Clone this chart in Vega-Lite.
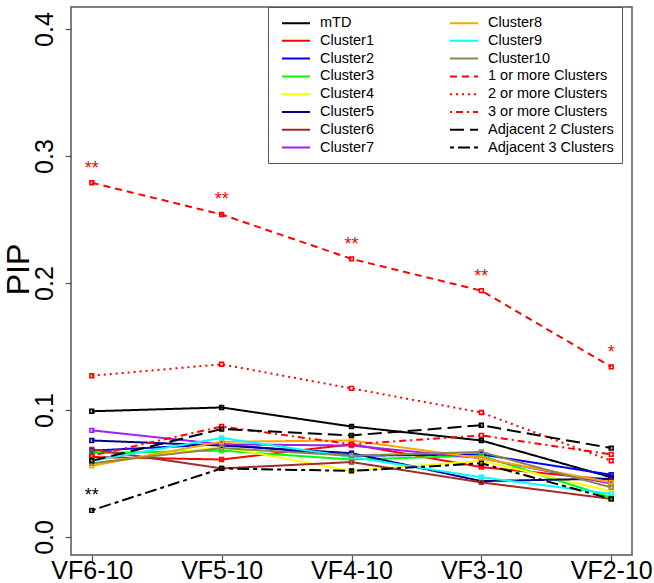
{
  "$schema": "https://vega.github.io/schema/vega-lite/v6.json",
  "width": 561,
  "height": 548,
  "autosize": {"type": "none"},
  "padding": {"left": 71, "top": 7, "right": 22, "bottom": 28},
  "background": "white",
  "config": {
    "font": "Liberation Sans",
    "view": {"stroke": "#555555", "strokeWidth": 1.5},
    "axis": {"domain": false, "grid": false, "tickColor": "#555555", "tickSize": 6, "tickWidth": 1.2, "labelColor": "black", "labelFont": "Liberation Sans", "labelFontSize": 25, "titleFont": "Liberation Sans"}
  },
  "data": {"values": [
    {"series": "mTD", "vf": "VF6-10", "pip": 0.099},
    {"series": "mTD", "vf": "VF5-10", "pip": 0.102},
    {"series": "mTD", "vf": "VF4-10", "pip": 0.087},
    {"series": "mTD", "vf": "VF3-10", "pip": 0.076},
    {"series": "mTD", "vf": "VF2-10", "pip": 0.047},
    {"series": "Cluster1", "vf": "VF6-10", "pip": 0.063},
    {"series": "Cluster1", "vf": "VF5-10", "pip": 0.061},
    {"series": "Cluster1", "vf": "VF4-10", "pip": 0.073},
    {"series": "Cluster1", "vf": "VF3-10", "pip": 0.055},
    {"series": "Cluster1", "vf": "VF2-10", "pip": 0.045},
    {"series": "Cluster2", "vf": "VF6-10", "pip": 0.068},
    {"series": "Cluster2", "vf": "VF5-10", "pip": 0.073},
    {"series": "Cluster2", "vf": "VF4-10", "pip": 0.064},
    {"series": "Cluster2", "vf": "VF3-10", "pip": 0.065},
    {"series": "Cluster2", "vf": "VF2-10", "pip": 0.049},
    {"series": "Cluster3", "vf": "VF6-10", "pip": 0.066},
    {"series": "Cluster3", "vf": "VF5-10", "pip": 0.068},
    {"series": "Cluster3", "vf": "VF4-10", "pip": 0.061},
    {"series": "Cluster3", "vf": "VF3-10", "pip": 0.064},
    {"series": "Cluster3", "vf": "VF2-10", "pip": 0.031},
    {"series": "Cluster4", "vf": "VF6-10", "pip": 0.058},
    {"series": "Cluster4", "vf": "VF5-10", "pip": 0.071},
    {"series": "Cluster4", "vf": "VF4-10", "pip": 0.052},
    {"series": "Cluster4", "vf": "VF3-10", "pip": 0.060},
    {"series": "Cluster4", "vf": "VF2-10", "pip": 0.036},
    {"series": "Cluster5", "vf": "VF6-10", "pip": 0.076},
    {"series": "Cluster5", "vf": "VF5-10", "pip": 0.072},
    {"series": "Cluster5", "vf": "VF4-10", "pip": 0.066},
    {"series": "Cluster5", "vf": "VF3-10", "pip": 0.044},
    {"series": "Cluster5", "vf": "VF2-10", "pip": 0.046},
    {"series": "Cluster6", "vf": "VF6-10", "pip": 0.069},
    {"series": "Cluster6", "vf": "VF5-10", "pip": 0.054},
    {"series": "Cluster6", "vf": "VF4-10", "pip": 0.059},
    {"series": "Cluster6", "vf": "VF3-10", "pip": 0.043},
    {"series": "Cluster6", "vf": "VF2-10", "pip": 0.030},
    {"series": "Cluster7", "vf": "VF6-10", "pip": 0.084},
    {"series": "Cluster7", "vf": "VF5-10", "pip": 0.073},
    {"series": "Cluster7", "vf": "VF4-10", "pip": 0.072},
    {"series": "Cluster7", "vf": "VF3-10", "pip": 0.062},
    {"series": "Cluster7", "vf": "VF2-10", "pip": 0.042},
    {"series": "Cluster8", "vf": "VF6-10", "pip": 0.056},
    {"series": "Cluster8", "vf": "VF5-10", "pip": 0.075},
    {"series": "Cluster8", "vf": "VF4-10", "pip": 0.076},
    {"series": "Cluster8", "vf": "VF3-10", "pip": 0.062},
    {"series": "Cluster8", "vf": "VF2-10", "pip": 0.043},
    {"series": "Cluster9", "vf": "VF6-10", "pip": 0.060},
    {"series": "Cluster9", "vf": "VF5-10", "pip": 0.078},
    {"series": "Cluster9", "vf": "VF4-10", "pip": 0.063},
    {"series": "Cluster9", "vf": "VF3-10", "pip": 0.047},
    {"series": "Cluster9", "vf": "VF2-10", "pip": 0.034},
    {"series": "Cluster10", "vf": "VF6-10", "pip": 0.058},
    {"series": "Cluster10", "vf": "VF5-10", "pip": 0.070},
    {"series": "Cluster10", "vf": "VF4-10", "pip": 0.064},
    {"series": "Cluster10", "vf": "VF3-10", "pip": 0.067},
    {"series": "Cluster10", "vf": "VF2-10", "pip": 0.039},
    {"series": "1 or more Clusters", "vf": "VF6-10", "pip": 0.279, "sig": "**"},
    {"series": "1 or more Clusters", "vf": "VF5-10", "pip": 0.254, "sig": "**"},
    {"series": "1 or more Clusters", "vf": "VF4-10", "pip": 0.219, "sig": "**"},
    {"series": "1 or more Clusters", "vf": "VF3-10", "pip": 0.194, "sig": "**"},
    {"series": "1 or more Clusters", "vf": "VF2-10", "pip": 0.134, "sig": "*"},
    {"series": "2 or more Clusters", "vf": "VF6-10", "pip": 0.127},
    {"series": "2 or more Clusters", "vf": "VF5-10", "pip": 0.136},
    {"series": "2 or more Clusters", "vf": "VF4-10", "pip": 0.117},
    {"series": "2 or more Clusters", "vf": "VF3-10", "pip": 0.098},
    {"series": "2 or more Clusters", "vf": "VF2-10", "pip": 0.060},
    {"series": "3 or more Clusters", "vf": "VF6-10", "pip": 0.064},
    {"series": "3 or more Clusters", "vf": "VF5-10", "pip": 0.087},
    {"series": "3 or more Clusters", "vf": "VF4-10", "pip": 0.073},
    {"series": "3 or more Clusters", "vf": "VF3-10", "pip": 0.080},
    {"series": "3 or more Clusters", "vf": "VF2-10", "pip": 0.065},
    {"series": "Adjacent 2 Clusters", "vf": "VF6-10", "pip": 0.060},
    {"series": "Adjacent 2 Clusters", "vf": "VF5-10", "pip": 0.085},
    {"series": "Adjacent 2 Clusters", "vf": "VF4-10", "pip": 0.080},
    {"series": "Adjacent 2 Clusters", "vf": "VF3-10", "pip": 0.088},
    {"series": "Adjacent 2 Clusters", "vf": "VF2-10", "pip": 0.070},
    {"series": "Adjacent 3 Clusters", "vf": "VF6-10", "pip": 0.021, "sig": "**"},
    {"series": "Adjacent 3 Clusters", "vf": "VF5-10", "pip": 0.054},
    {"series": "Adjacent 3 Clusters", "vf": "VF4-10", "pip": 0.052},
    {"series": "Adjacent 3 Clusters", "vf": "VF3-10", "pip": 0.058},
    {"series": "Adjacent 3 Clusters", "vf": "VF2-10", "pip": 0.030}
  ]},
  "encoding": {
    "x": {"field": "vf", "type": "ordinal", "sort": ["VF6-10", "VF5-10", "VF4-10", "VF3-10", "VF2-10"],
          "scale": {"type": "point", "padding": 0.16},
          "axis": {"title": null, "labelAngle": 0, "labelPadding": -3}},
    "y": {"field": "pip", "type": "quantitative",
          "scale": {"domain": [-0.0142, 0.4174], "nice": false, "zero": false},
          "axis": {"title": "PIP", "values": [0, 0.1, 0.2, 0.3, 0.4], "format": ".1f", "labelAngle": 270, "labelAlign": "center", "labelBaseline": "bottom", "labelPadding": 8,
                   "titleFontSize": 32, "titleFontWeight": "normal", "titleAngle": 270, "titleX": -53, "titleY": 262, "titleAlign": "center", "titleBaseline": "middle"}}
  },
  "layer": [
    {
      "mark": {"type": "line", "strokeWidth": 2},
      "encoding": {
        "color": {"field": "series", "type": "nominal",
          "scale": {
            "domain": ["mTD", "Cluster1", "Cluster2", "Cluster3", "Cluster4", "Cluster5", "Cluster6", "Cluster7", "Cluster8", "Cluster9", "Cluster10", "1 or more Clusters", "2 or more Clusters", "3 or more Clusters", "Adjacent 2 Clusters", "Adjacent 3 Clusters"],
            "range": ["#000000", "#FF0000", "#0000FF", "#00FF00", "#FFFF00", "#00008B", "#A52A2A", "#A020F0", "#FFA500", "#00FFFF", "#8B864E", "#FF0000", "#FF0000", "#FF0000", "#000000", "#000000"]},
          "legend": {"title": null, "orient": "none", "legendX": 197, "legendY": 0, "columns": 2, "symbolType": "M-2,0L2,0", "symbolSize": 196, "symbolStrokeWidth": 2, "symbolOffset": 12, "labelFontSize": 14.5, "labelFont": "Liberation Sans", "labelOffset": 16, "strokeColor": "#555555", "fillColor": "white", "padding": 8, "columnPadding": 70, "rowPadding": 2.8}},
        "strokeDash": {"field": "series", "type": "nominal",
          "scale": {
            "domain": ["mTD", "Cluster1", "Cluster2", "Cluster3", "Cluster4", "Cluster5", "Cluster6", "Cluster7", "Cluster8", "Cluster9", "Cluster10", "1 or more Clusters", "2 or more Clusters", "3 or more Clusters", "Adjacent 2 Clusters", "Adjacent 3 Clusters"],
            "range": [[1, 0], [1, 0], [1, 0], [1, 0], [1, 0], [1, 0], [1, 0], [1, 0], [1, 0], [1, 0], [1, 0], [7, 5], [2, 4], [2, 4, 7, 4], [14, 6], [4, 4, 12, 4]]},
          "legend": {"title": null, "orient": "none", "legendX": 197, "legendY": 0, "columns": 2, "symbolType": "M-2,0L2,0", "symbolSize": 196, "symbolStrokeWidth": 2, "symbolOffset": 12, "labelFontSize": 14.5, "labelFont": "Liberation Sans", "labelOffset": 16, "strokeColor": "#555555", "fillColor": "white", "padding": 8, "columnPadding": 70, "rowPadding": 2.8}}
      }
    },
    {
      "mark": {"type": "point", "shape": "square", "filled": false, "size": 14, "strokeWidth": 1.6, "opacity": 1},
      "encoding": {
        "color": {"field": "series", "type": "nominal"}
      }
    },
    {
      "transform": [{"filter": "isValid(datum.sig)"}],
      "mark": {"type": "text", "fontSize": 18, "dy": -14, "baseline": "middle", "align": "center", "font": "Liberation Sans"},
      "encoding": {
        "text": {"field": "sig"},
        "color": {"condition": {"test": "datum.series === 'Adjacent 3 Clusters'", "value": "#000000"}, "value": "#FF0000"}
      }
    }
  ]
}
